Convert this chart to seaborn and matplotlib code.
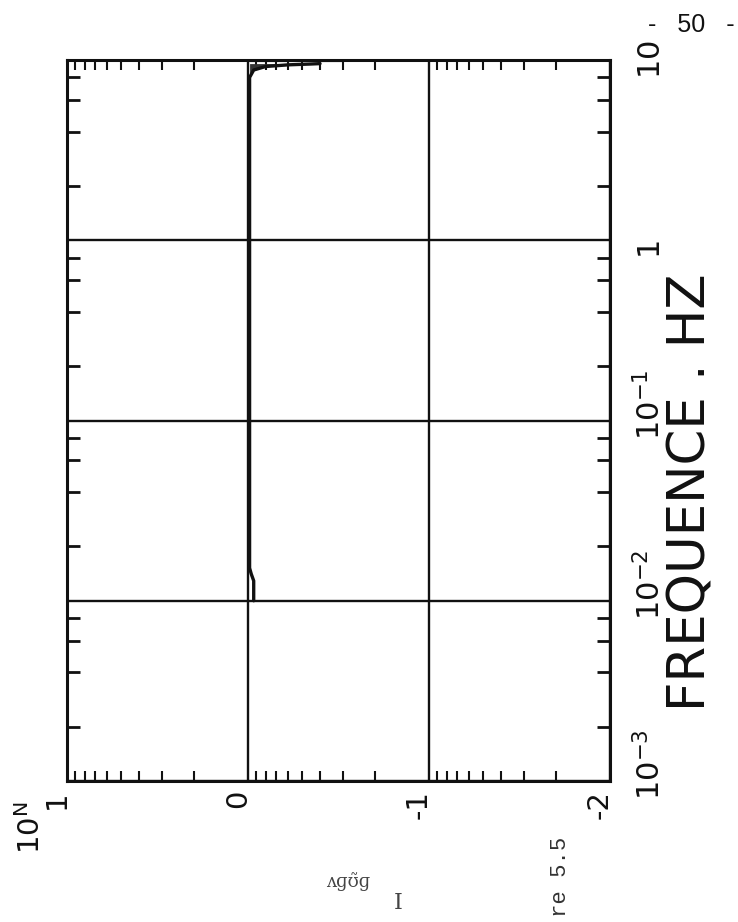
import numpy as np
import pandas as pd
import matplotlib
matplotlib.use("Agg")
import matplotlib.pyplot as plt
import matplotlib.transforms as mtransforms
from matplotlib.ticker import FixedLocator, NullFormatter
import seaborn as sns

# frequency response (plot is drawn rotated:
# 10^N runs left->right decreasing, frequency runs bottom->top)
freq_hz = [0.0100, 0.0129, 0.0141, 0.0152, 0.02, 0.05, 0.1, 0.3, 1.0, 3.0,
           8.0, 8.8, 9.2, 9.4, 9.5, 9.55]
gain = [0.93, 0.93, 0.96, 0.98, 0.98, 0.98, 0.98, 0.98, 0.98, 0.98,
        0.98, 0.93, 0.80, 0.60, 0.45, 0.40]

# faint trace right under the top edge
edge_freq = [9.85, 9.85]
edge_gain = [0.98, 0.30]

n_ticks = [10, 1, 0.1, 0.01]
n_labels = ['1', '0', '-1', '-2']
freq_ticks = [1e-3, 1e-2, 1e-1, 1, 10]
freq_labels = [r'$10^{-3}$', r'$10^{-2}$', r'$10^{-1}$', r'$1$', r'$10$']

sns.set_theme(style='white')
plt.rcParams['font.family'] = ['DejaVu Sans']
plt.rcParams['mathtext.fontset'] = 'dejavusans'
ink = '#111111'

W, H = 738, 922
fig = plt.figure(figsize=(W / 100, H / 100), dpi=100)
fig.patch.set_facecolor('white')
x0, x1, y0, y1 = 67, 610, 60, 781
ax = fig.add_axes([x0 / W, 1 - y1 / H, (x1 - x0) / W, (y1 - y0) / H])

df = pd.DataFrame({'gain': gain, 'freq': freq_hz})
sns.lineplot(data=df, x='gain', y='freq', sort=False, estimator=None,
             color=ink, lw=2.4, ax=ax)
tail = df[df['freq'] >= 8.0]
ax.fill_betweenx(tail['freq'], tail['gain'], 0.98, color='#333333', lw=0)
ax.plot(edge_gain, edge_freq, color='#555555', lw=1.6, alpha=0.8)

ax.set_xscale('log')
ax.set_yscale('log')
ax.set_xlim(10, 0.01)
ax.set_ylim(1e-3, 10)
ax.set_xlabel('')
ax.set_ylabel('')

# decade lines
ax.xaxis.set_major_locator(FixedLocator(n_ticks))
ax.yaxis.set_major_locator(FixedLocator(freq_ticks))
ax.xaxis.set_major_formatter(NullFormatter())
ax.yaxis.set_major_formatter(NullFormatter())
ax.grid(True, which='major', color=ink, lw=1.7)

xminor = [m * d for d in [0.01, 0.1, 1] for m in range(2, 10)]
yminor = [m * d for d in [1e-3, 1e-2, 1e-1, 1] for m in (2, 4, 6, 8)]
ax.xaxis.set_minor_locator(FixedLocator(xminor))
ax.yaxis.set_minor_locator(FixedLocator(yminor))
ax.xaxis.set_minor_formatter(NullFormatter())
ax.yaxis.set_minor_formatter(NullFormatter())
ax.tick_params(which='major', length=0)
ax.tick_params(axis='x', which='minor', direction='in', top=True, bottom=True,
               length=7, width=1.5, color=ink)
ax.tick_params(axis='y', which='minor', direction='in', left=True, right=True,
               length=9.5, width=2, color=ink)
for s in ax.spines.values():
    s.set_color(ink)
    s.set_linewidth(2.2)

# rotated tick labels
tx = mtransforms.blended_transform_factory(ax.transData, ax.transAxes)
for v, lab in zip(n_ticks, n_labels):
    ax.text(v, 0, lab, rotation=90, ha='right', va='top', fontsize=21, color=ink,
            transform=mtransforms.offset_copy(tx, fig=fig, x=4, y=-9, units='dots'))
ty = mtransforms.blended_transform_factory(ax.transAxes, ax.transData)
for f, lab in zip(freq_ticks, freq_labels):
    ax.text(1, f, lab, rotation=90, ha='right', va='bottom', fontsize=22, color=ink,
            transform=mtransforms.offset_copy(ty, fig=fig, x=56, y=-19, units='dots'))

fig.text(46 / W, 1 - 828 / H, r'$10^\mathrm{N}$', rotation=90, ha='right',
         va='center', fontsize=21, color=ink)
fig.text(716 / W, 1 - 492 / H, 'FREQUENCE . HZ', rotation=90, ha='right',
         va='center', fontsize=37, color=ink)

# page furniture from the scan
fig.text(691 / W, 1 - 25 / H, '-   50   -', ha='center', va='center', fontsize=18,
         family='Liberation Sans', color=ink)
fig.text(571 / W, 1 - 917 / H, 're 5.5', rotation=90, ha='right', va='bottom',
         fontsize=16, family='Liberation Mono', color='#333333')
fig.text(348 / W, 1 - 882 / H, 'ʌɡʊ̃ɡ', ha='center', va='center', fontsize=13,
         family='DejaVu Serif', color='#444444')
fig.text(398 / W, 1 - 903 / H, 'I', ha='center', va='center', fontsize=16,
         family='DejaVu Serif', color='#444444')

fig.savefig('out.png', dpi=100, facecolor='white')
